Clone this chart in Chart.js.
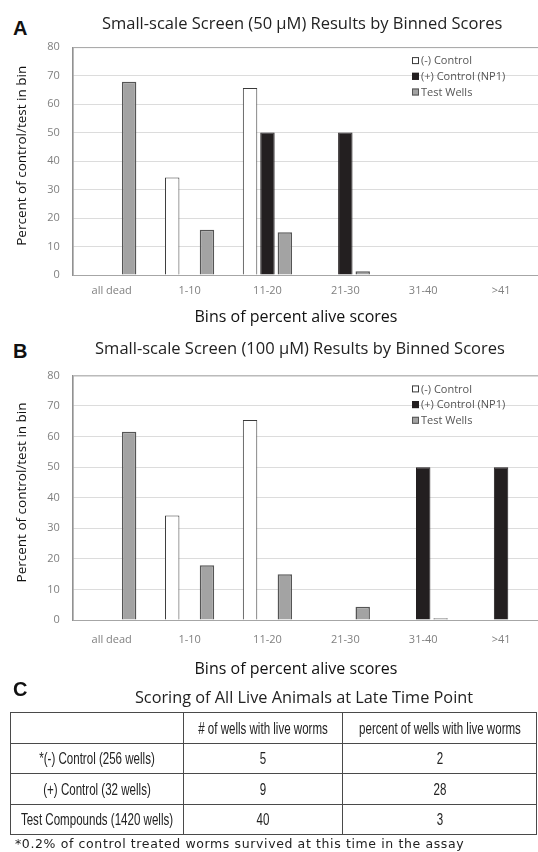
<!DOCTYPE html>
<html>
<head>
<meta charset="utf-8">
<script src="https://cdn.jsdelivr.net/npm/chart.js@4.4.1/dist/chart.umd.min.js"></script>
<style>
    html, body { margin: 0; padding: 0; background: #fff; }
    body { width: 538px; height: 852px; overflow: hidden; position: relative; font-family: "Open Sans", sans-serif; }
    .panel { position: absolute; left: 0; width: 542px; }
    .letter { position: absolute; left: 13px; font: bold 20px "Liberation Sans", Arial, sans-serif; line-height: 20px; color: #111; }
    #titleC { position: absolute; left: 0; width: 608px; top: 686px; text-align: center; font-size: 16.3px; line-height: 22px; color: #222; }
    #scoreTable { position: absolute; left: 10px; top: 712px; width: 526px; border-collapse: collapse; table-layout: fixed; }
    #scoreTable td { border: 1.5px solid #4a4a4a; height: 29.5px; padding: 0; position: relative; }
    #scoreTable td span { position: absolute; left: 50%; top: 50%; white-space: nowrap;
        transform: translate(-50%, -50%) scaleX(0.7);
        font: 16.5px "Liberation Sans", Arial, sans-serif; color: #222; }
    #footnote { position: absolute; left: 15px; top: 836px; font: 12.5px "DejaVu Sans", sans-serif; letter-spacing: 0.62px; line-height: 16px; color: #222; white-space: nowrap; }
</style>
</head>
<body>
<div class="letter" style="top:18px">A</div>
<div class="panel" style="top:0; height:330px"><canvas id="chartA"></canvas></div>
<div class="letter" style="top:341px">B</div>
<div class="panel" style="top:330px; height:355px"><canvas id="chartB"></canvas></div>
<div class="letter" style="top:679px">C</div>
<div id="titleC">Scoring of All Live Animals at Late Time Point</div>
<table id="scoreTable"><colgroup><col style="width:173px"><col style="width:159px"><col style="width:194px"></colgroup></table>
<div id="footnote">*0.2% of control treated worms survived at this time in the assay</div>

<script>
// bins on the x axis
const bins = ['all dead', '1-10', '11-20', '21-30', '31-40', '>41'];
const seriesNames = ['(-) Control', '(+) Control (NP1)', 'Test Wells'];

// panel A (50 uM)
const negA = [0, 34.2, 65.6, 0, 0, 0];
const posA = [0, 0, 50, 50, 0, 0];
const testA = [67.8, 15.9, 15, 1.3, 0, 0];

// panel B (100 uM)
const negB = [0, 34.2, 65.4, 0, 0, 0];
const posB = [0, 0, 0, 0, 50, 50];
const testB = [61.6, 17.9, 15, 4.3, 0.6, 0];

const yTicks = [0, 10, 20, 30, 40, 50, 60, 70, 80];

// panel C table
const tableHeaders = ['', '# of wells with live worms', 'percent of wells with live worms'];
const tableRows = ['*(-) Control (256 wells)', '(+) Control (32 wells)', 'Test Compounds (1420 wells)'];
const wellsWithLive = [5, 9, 40];
const percentWithLive = [2, 28, 3];

const tickColor = '#808080';
// non-breaking spaces nudge the centred titles a little, like the original figure
const nb = '\u00a0';

//Grey frame round the plot area
const plotFrame = {
    id: 'plotFrame',
    beforeDatasetsDraw(chart) {
        const a = chart.chartArea;
        const ctx = chart.ctx;
        ctx.save();
        ctx.strokeStyle = '#a6a6a6';
        ctx.lineWidth = 1;
        ctx.strokeRect(a.left + 0.5, a.top + 0.5, a.right - a.left, a.bottom - a.top);
        ctx.restore();
    }
};

//Legend drawn inside the plot area, top right
const insideLegend = {
    id: 'insideLegend',
    afterDraw(chart) {
        const a = chart.chartArea;
        const ctx = chart.ctx;
        ctx.save();
        ctx.font = '11px "Open Sans"';
        ctx.textBaseline = 'middle';
        chart.data.datasets.forEach(function (ds, i) {
            let x = a.right - 128;
            let y = a.top + 13.5 + i * 15.7;
            ctx.fillStyle = ds.backgroundColor;
            ctx.fillRect(x, y - 3.5, 7, 7);
            ctx.strokeStyle = ds.borderColor;
            ctx.lineWidth = 1;
            ctx.strokeRect(x + 0.5, y - 3, 6, 6);
            ctx.fillStyle = '#555555';
            ctx.fillText(ds.label, x + 9, y + 0.5);
        });
        ctx.restore();
    }
};

function makeChart(id, title, neg, pos, test, pad) {
    let ctx = document.getElementById(id).getContext('2d');
    let data = {
        labels: bins,
        datasets: [
            { label: seriesNames[0], data: neg, backgroundColor: '#ffffff', borderColor: '#3a3a3a', borderWidth: 1 },
            { label: seriesNames[1], data: pos, backgroundColor: '#231f20', borderColor: '#231f20', borderWidth: 1 },
            { label: seriesNames[2], data: test, backgroundColor: '#a3a3a3', borderColor: '#555555', borderWidth: 1.5 }
        ]
    };
    let options = {
        responsive: true,
        maintainAspectRatio: false,
        animation: { duration: 0 },
        layout: { padding: { left: 0, right: 2, top: 0, bottom: 0 } },
        datasets: { bar: { categoryPercentage: 0.67, barPercentage: 0.83 } },
        plugins: {
            legend: { display: false },
            tooltip: { enabled: false },
            title: {
                display: true,
                fullSize: false,
                text: title,
                color: '#222',
                font: { family: 'Open Sans', size: 16.5, weight: 'normal' },
                padding: { top: pad.titleTop, bottom: pad.titleBottom }
            }
        },
        scales: {
            x: {
                grid: { display: false, drawTicks: false },
                border: { color: '#8c8c8c' },
                ticks: { color: tickColor, font: { family: 'Open Sans', size: 11 }, padding: pad.xTick, maxRotation: 0 },
                title: {
                    display: true,
                    text: 'Bins of percent alive scores' + nb.repeat(5),
                    color: '#111',
                    font: { family: 'Open Sans', size: 16 },
                    padding: { top: pad.xTitleTop, bottom: pad.xTitleBottom }
                }
            },
            y: {
                min: 0,
                max: 80,
                afterBuildTicks: function (axis) {
                    axis.ticks = yTicks.map(function (v) { return { value: v }; });
                },
                grid: { color: '#dcdcdc', drawTicks: false },
                border: { color: '#8c8c8c' },
                ticks: { color: tickColor, font: { family: 'Open Sans', size: 11 }, padding: 13 },
                title: {
                    display: true,
                    text: nb.repeat(3) + 'Percent of control/test in bin',
                    color: '#111',
                    font: { family: 'Open Sans', size: 13.5 },
                    padding: { top: 14, bottom: 4 }
                }
            }
        }
    };
    return new Chart(ctx, { type: 'bar', data: data, options: options, plugins: [plotFrame, insideLegend] });
}

makeChart('chartA', 'Small-scale Screen (50 \u00b5M) Results by Binned Scores' + nb.repeat(2), negA, posA, testA,
    { titleTop: 14, titleBottom: 13.3, xTick: 9.4, xTitleTop: 0.4, xTitleBottom: 3.4 });
makeChart('chartB', 'Small-scale Screen (100 \u00b5M) Results by Binned Scores' + nb.repeat(3), negB, posB, testB,
    { titleTop: 9.2, titleBottom: 16.4, xTick: 13, xTitleTop: 0.2, xTitleBottom: 6.4 });

//Build the table for panel C
let table = document.getElementById('scoreTable');
let head = table.insertRow();
tableHeaders.forEach(function (h) {
    let cell = head.insertCell();
    cell.innerHTML = '<span></span>';
    cell.firstChild.textContent = h;
});
for (let i = 0; i < tableRows.length; i++) {
    let row = table.insertRow();
    [tableRows[i], wellsWithLive[i], percentWithLive[i]].forEach(function (v) {
        let cell = row.insertCell();
        cell.innerHTML = '<span></span>';
        cell.firstChild.textContent = v;
    });
}
</script>
</body>
</html>
